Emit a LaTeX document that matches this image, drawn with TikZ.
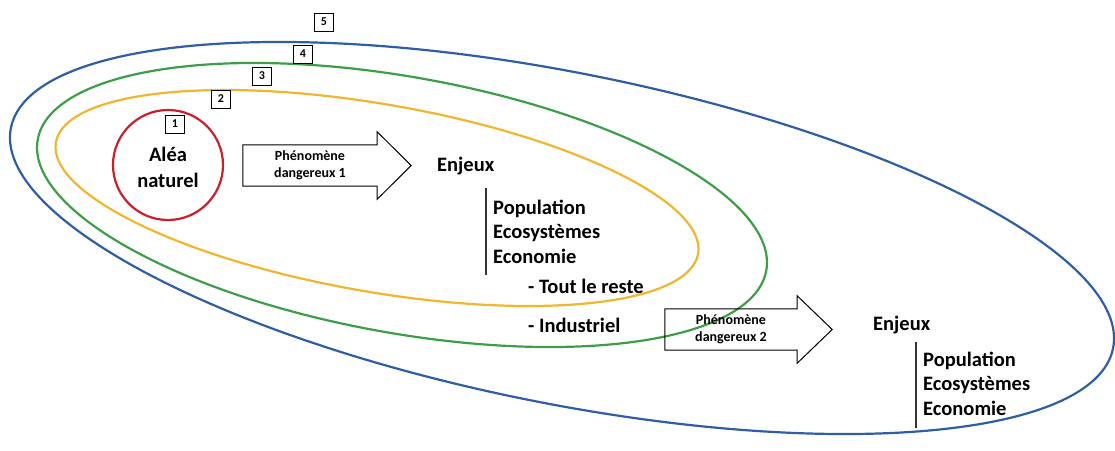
\documentclass[tikz,border=0pt]{standalone}
\usepackage{fontspec}
\setmainfont{Carlito}
\usetikzlibrary{shapes.geometric,calc}
\definecolor{cred}{HTML}{C8202D}
\definecolor{cyellow}{HTML}{F0B62E}
\definecolor{cgreen}{HTML}{3E9E48}
\definecolor{cblue}{HTML}{2F5EA2}
\tikzset{
  zone/.style={ellipse, draw, line width=2.2pt, inner sep=0pt},
  numbox/.style={draw, line width=0.9pt, minimum width=19pt, minimum height=18pt, inner sep=0pt, font=\fontsize{12}{12}\selectfont\bfseries},
  bigtxt/.style={inner sep=0pt, font=\fontsize{20.5}{24.5}\selectfont\bfseries, align=left},
  arrowbody/.style={inner sep=0pt, minimum width=#1, minimum height=41pt, align=center, font=\fontsize{14}{17.5}\selectfont\bfseries},
  arrowline/.style={draw, line width=1pt, line join=miter},
  barline/.style={draw=black!80, line width=1.2pt}
}
\begin{document}
\begin{tikzpicture}[x=1pt,y=-1pt]
\useasboundingbox (0,0) rectangle (1115,450);
% zones
\node[zone, draw=cblue, minimum width=1124pt, minimum height=330.6pt, rotate=-11.31] (z4) at (562,238) {};
\node[zone, draw=cgreen, minimum width=740.2pt, minimum height=256pt, rotate=-10.2] (z3) at (402,205) {};
\node[zone, draw=cyellow, minimum width=651.8pt, minimum height=187.8pt, rotate=-9.84] (z2) at (377,198) {};
\node[circle, draw=cred, line width=2.2pt, minimum size=110pt, inner sep=0pt] (z1) at (168,165) {};
% numbers
\node[numbox, fill=white] (n1) at (175,124) {1};
\node[numbox, fill=white] (n2) at (221,99) {2};
\node[numbox, fill=white] (n3) at (262,76) {3};
\node[numbox, fill=white] (n4) at (303,54) {4};
\node[numbox, fill=white] (n5) at (324,22) {5};
% alea
\node[inner sep=0pt, font=\fontsize{20.5}{26}\selectfont\bfseries, align=center] (alea) at (168,167) {Aléa\\naturel};
% arrow 1
\node[arrowbody=134pt] (ph1) at (310,165.5) {Phénomène\\dangereux 1};
\path[arrowline] (ph1.south west) -- (ph1.north west) -- (ph1.north east) -- ($(ph1.north east)+(0,-13)$) -- ($(ph1.east)+(34,0)$) -- ($(ph1.south east)+(0,13)$) -- (ph1.south east) -- cycle;
% arrow 2
\node[arrowbody=132pt] (ph2) at (731,329.5) {Phénomène\\dangereux 2};
\path[arrowline] (ph2.south west) -- (ph2.north west) -- (ph2.north east) -- ($(ph2.north east)+(0,-13)$) -- ($(ph2.east)+(35,0)$) -- ($(ph2.south east)+(0,13)$) -- (ph2.south east) -- cycle;
% enjeux 1
\node[bigtxt, anchor=base west] (enj1) at (437,171) {Enjeux};
\node[bigtxt, anchor=base west] (pop1) at (493,263) {Population\\Ecosystèmes\\Economie};
\coordinate (b1a) at (486,188);
\coordinate (b1b) at (486,275);
\path[barline] (b1a) -- (b1b);
\node[bigtxt, anchor=base west] (reste) at (528,293) {- Tout le reste};
\node[bigtxt, anchor=base west] (indus) at (528,332) {- Industriel};
% enjeux 2
\node[bigtxt, anchor=base west] (enj2) at (873,330) {Enjeux};
\node[bigtxt, anchor=base west] (pop2) at (923,415) {Population\\Ecosystèmes\\Economie};
\coordinate (b2a) at (916,342);
\coordinate (b2b) at (916,428);
\path[barline] (b2a) -- (b2b);
\end{tikzpicture}
\end{document}
